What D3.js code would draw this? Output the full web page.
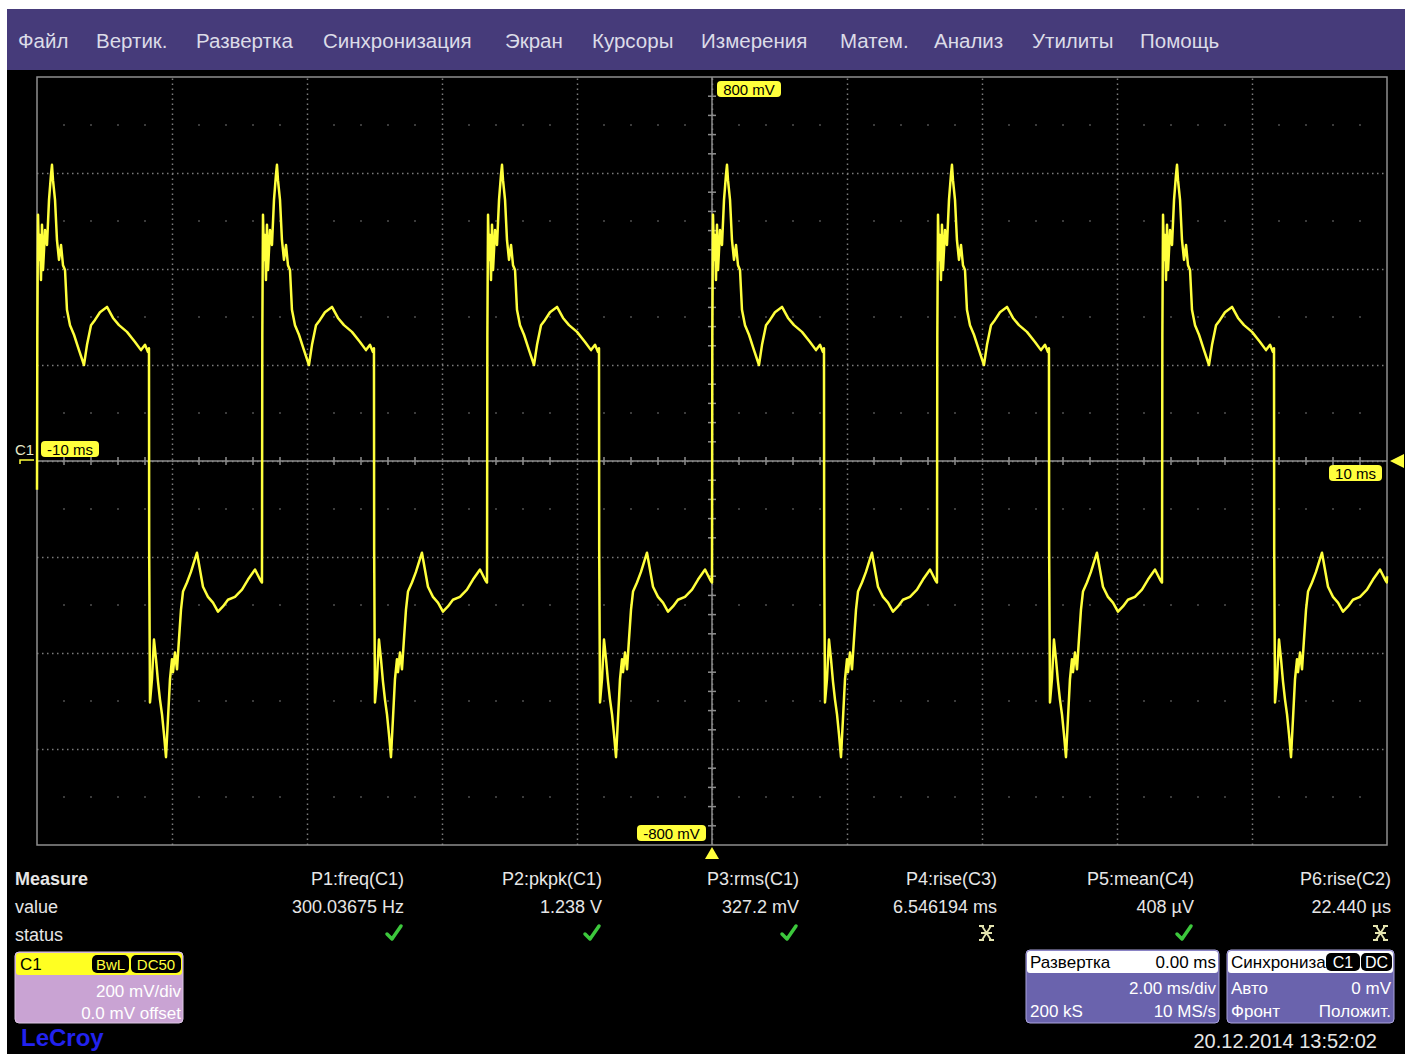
<!DOCTYPE html>
<html>
<head>
<meta charset="utf-8">
<script src="https://cdn.jsdelivr.net/npm/d3@7"></script>
<style>
  body { margin: 0; background: #fff; }
  svg { display: block; font-family: "Liberation Sans", Arial, sans-serif; }
</style>
</head>
<body>
<div id="container"></div>
<script>
// ---- data ----
const menuItems = ['Файл', 'Вертик.', 'Развертка', 'Синхронизация', 'Экран', 'Курсоры',
  'Измерения', 'Матем.', 'Анализ', 'Утилиты', 'Помощь'];

const timeDomain = [-10, 10];      // ms, 2 ms/div
const voltDomain = [-800, 800];    // mV, 200 mV/div
const timeGrid = [-8, -6, -4, -2, 0, 2, 4, 6, 8];
const voltGrid = [-600, -400, -200, 0, 200, 400, 600];

// one period of C1, time from rising edge (ms) and level (mV)
const cycleT = [0.000, 0.005, 0.015, 0.030, 0.044, 0.059, 0.074, 0.089, 0.119, 0.148,
  0.178, 0.207, 0.222, 0.237, 0.267, 0.296, 0.326, 0.356, 0.385, 0.415,
  0.444, 0.489, 0.548, 0.622, 0.696, 0.741, 0.800, 0.859, 0.933, 1.037,
  1.126, 1.215, 1.333, 1.452, 1.541, 1.600, 1.644, 1.659,
  1.662, 1.674, 1.703, 1.733, 1.763, 1.792, 1.822, 1.852, 1.881, 1.911,
  1.940, 1.970, 2.000, 2.015, 2.044, 2.074, 2.103, 2.133, 2.163, 2.222,
  2.281, 2.370, 2.459, 2.533, 2.607, 2.681, 2.755, 2.829, 2.933, 3.037,
  3.126, 3.230, 3.304, 3.330];
const cycleMv = [-253, 263, 513, 419, 471, 377, 492, 398, 481, 450,
  544, 596, 617, 585, 544, 460, 419, 450, 408, 398,
  315, 283, 263, 231, 200, 242, 283, 294, 310, 321,
  298, 283, 269, 248, 231, 242, 227, 235,
  -185, -503, -455, -372, -413, -459, -497, -528, -569, -617,
  -538, -455, -413, -440, -399, -434, -372, -310, -272, -253,
  -231, -191, -262, -283, -295, -314, -303, -289, -283, -268,
  -247, -226, -247, -253];
// rising edges seen on screen (ms)
const cycleStarts = [-10, -6.667, -3.333, 0, 3.333, 6.667];
const firstLevel = -60;   // level at the left edge before the first rise (mV)
const lastLevel = -240;   // level at the right edge (mV)

const measNames = ['P1:freq(C1)', 'P2:pkpk(C1)', 'P3:rms(C1)', 'P4:rise(C3)', 'P5:mean(C4)', 'P6:rise(C2)'];
const measValues = ['300.03675 Hz', '1.238 V', '327.2 mV', '6.546194 ms', '408 µV', '22.440 µs'];
const measStatus = ['ok', 'ok', 'ok', 'bad', 'ok', 'bad'];

// ---- layout ----
const W = 1414, H = 1054;
const plot = { left: 37, right: 1387, top: 77, bottom: 845 };
const menuX = [18, 96, 196, 323, 505, 592, 701, 840, 934, 1032, 1140];
const measRight = [404, 602, 799, 997, 1194, 1391];
const yellow = '#ffff3c';
const gridColor = '#7c7c7c';

const svg = d3.select('#container').append('svg')
  .attr('width', W).attr('height', H);

svg.append('rect').attr('x', 7).attr('y', 9).attr('width', 1398).attr('height', H - 9).attr('fill', '#000');
svg.append('rect').attr('x', 7).attr('y', 9).attr('width', 1398).attr('height', 61).attr('fill', '#463b7a');

svg.append('g').selectAll('text').data(menuItems).enter().append('text')
  .attr('x', (d, i) => menuX[i]).attr('y', 48)
  .attr('fill', '#dcdce8').attr('font-size', 20.5)
  .text(d => d);

const x = d3.scaleLinear().domain(timeDomain).range([plot.left, plot.right]);
const y = d3.scaleLinear().domain(voltDomain).range([plot.bottom, plot.top]);
const plotH = plot.bottom - plot.top, plotW = plot.right - plot.left;

// dotted grid
const gx = svg.append('g').attr('transform', 'translate(0,' + plot.bottom + ')')
  .call(d3.axisBottom(x).tickValues(timeGrid).tickSize(-plotH).tickFormat(''));
const gy = svg.append('g').attr('transform', 'translate(' + plot.left + ',0)')
  .call(d3.axisLeft(y).tickValues(voltGrid).tickSize(-plotW).tickFormat(''));
[gx, gy].forEach(g => {
  g.select('.domain').remove();
  g.selectAll('line').attr('stroke', gridColor).attr('stroke-width', 1.5)
    .attr('stroke-dasharray', '1.5,3.5');
});

// half-division dot rows
const minorT = d3.range(-10, 10.001, 0.4).filter(t => Math.abs(t / 2 - Math.round(t / 2)) > 0.01);
const halfV = [-700, -500, -300, -100, 100, 300, 500, 700];
const dots = [];
halfV.forEach(v => minorT.forEach(t => dots.push([t, v])));
svg.append('g').selectAll('rect').data(dots).enter().append('rect')
  .attr('x', d => x(d[0]) - 0.8).attr('y', d => y(d[1]) - 0.8)
  .attr('width', 1.6).attr('height', 1.6).attr('fill', '#5c5c5c');

// border
svg.append('rect').attr('x', plot.left).attr('y', plot.top)
  .attr('width', plotW).attr('height', plotH)
  .attr('fill', 'none').attr('stroke', '#8e8e8e').attr('stroke-width', 1.5);

// centre axes with ticks
svg.append('line').attr('x1', plot.left).attr('x2', plot.right)
  .attr('y1', y(0)).attr('y2', y(0)).attr('stroke', '#8e8e8e').attr('stroke-width', 1.5);
svg.append('line').attr('x1', x(0)).attr('x2', x(0))
  .attr('y1', plot.top).attr('y2', plot.bottom).attr('stroke', '#8e8e8e').attr('stroke-width', 1.5);
svg.append('g').selectAll('line').data(minorT).enter().append('line')
  .attr('x1', d => x(d)).attr('x2', d => x(d))
  .attr('y1', y(0) - 4).attr('y2', y(0) + 4)
  .attr('stroke', '#8e8e8e').attr('stroke-width', 1.5);
const minorV = d3.range(-800, 800.01, 40).filter(v => v % 200 !== 0);
svg.append('g').selectAll('line').data(minorV).enter().append('line')
  .attr('x1', x(0) - 4).attr('x2', x(0) + 4)
  .attr('y1', d => y(d)).attr('y2', d => y(d))
  .attr('stroke', '#8e8e8e').attr('stroke-width', 1.5);

// trace
const trace = [];
cycleStarts.forEach((s, k) => {
  cycleT.forEach((t, i) => {
    if (s + t > timeDomain[1]) return;
    trace.push([s + t, (k === 0 && i === 0) ? firstLevel : cycleMv[i]]);
  });
});
trace.push([timeDomain[1], lastLevel]);
svg.append('path').datum(trace)
  .attr('fill', 'none').attr('stroke', yellow).attr('stroke-width', 2.5)
  .attr('stroke-linejoin', 'round')
  .attr('d', d3.line().x(d => x(d[0])).y(d => y(d[1])));

// yellow marker labels
function tag(xl, yt, w, txt) {
  svg.append('rect').attr('x', xl).attr('y', yt).attr('width', w).attr('height', 16)
    .attr('rx', 4).attr('fill', yellow);
  svg.append('text').attr('x', xl + w / 2).attr('y', yt + 13.5)
    .attr('text-anchor', 'middle').attr('font-size', 15).attr('fill', '#000').text(txt);
}
tag(x(0) + 5, y(800) + 4, 64, '800 mV');
tag(x(0) - 75, y(-800) - 20, 69, '-800 mV');
tag(41, y(0) - 20, 58, '-10 ms');
tag(1329, y(0) + 4, 53, '10 ms');
svg.append('text').attr('x', 15).attr('y', y(0) - 6).attr('font-size', 15)
  .attr('fill', '#e8e8c8').text('C1');
svg.append('path').attr('d', 'M20,' + (y(0) + 3) + 'V' + (y(0) - 1) + 'H34')
  .attr('fill', 'none').attr('stroke', yellow).attr('stroke-width', 1.5);
svg.append('path')
  .attr('d', 'M1390,' + y(0) + 'L1404,' + (y(0) - 7) + 'L1404,' + (y(0) + 7) + 'Z')
  .attr('fill', yellow);
svg.append('path')
  .attr('d', 'M' + x(0) + ',' + (plot.bottom + 2) + 'L' + (x(0) - 7) + ',' + (plot.bottom + 14) +
    'L' + (x(0) + 7) + ',' + (plot.bottom + 14) + 'Z')
  .attr('fill', yellow);

// measurement table
const txtCol = '#e6e6e6';
svg.append('text').attr('x', 15).attr('y', 885).attr('font-size', 18)
  .attr('font-weight', 'bold').attr('fill', txtCol).text('Measure');
svg.append('text').attr('x', 15).attr('y', 913).attr('font-size', 18).attr('fill', txtCol).text('value');
svg.append('text').attr('x', 15).attr('y', 941).attr('font-size', 18).attr('fill', txtCol).text('status');

const meas = svg.append('g').selectAll('g').data(measNames).enter().append('g')
  .attr('transform', (d, i) => 'translate(' + measRight[i] + ',0)');
meas.append('text').attr('y', 885).attr('text-anchor', 'end').attr('font-size', 18)
  .attr('fill', txtCol).text(d => d);
meas.append('text').attr('y', 913).attr('text-anchor', 'end').attr('font-size', 18)
  .attr('fill', txtCol).text((d, i) => measValues[i]);
meas.each(function (d, i) {
  const g = d3.select(this);
  if (measStatus[i] === 'ok') {
    g.append('path').attr('d', 'M-17,934 L-12,939 L-3,926')
      .attr('fill', 'none').attr('stroke', '#3cc83c').attr('stroke-width', 3.5)
      .attr('stroke-linecap', 'round').attr('stroke-linejoin', 'round');
  } else {
    g.append('path')
      .attr('d', 'M-18,926H-13M-8,926H-3M-15,926L-6,940M-6,926L-15,940M-18,940H-13M-8,940H-3M-16,933H-5')
      .attr('fill', 'none').attr('stroke', '#e4e4b0').attr('stroke-width', 1.8);
  }
});

// C1 descriptor box
svg.append('rect').attr('x', 15).attr('y', 952).attr('width', 168).attr('height', 71)
  .attr('rx', 4).attr('fill', '#c9a3d3').attr('stroke', '#dcc6e4');
svg.append('rect').attr('x', 16).attr('y', 953).attr('width', 166).attr('height', 22)
  .attr('rx', 3).attr('fill', '#ffff22');
svg.append('text').attr('x', 20).attr('y', 970).attr('font-size', 17).attr('fill', '#000').text('C1');
function badge(xl, yt, w, txt, col, size) {
  svg.append('rect').attr('x', xl).attr('y', yt).attr('width', w).attr('height', 18)
    .attr('rx', 5).attr('fill', '#000');
  svg.append('text').attr('x', xl + w / 2).attr('y', yt + 14.5).attr('text-anchor', 'middle')
    .attr('font-size', size).attr('fill', col).text(txt);
}
badge(92, 955, 37, 'BwL', yellow, 15);
badge(131, 955, 50, 'DC50', yellow, 15);
svg.append('text').attr('x', 181).attr('y', 997).attr('text-anchor', 'end')
  .attr('font-size', 17).attr('fill', '#fff').text('200 mV/div');
svg.append('text').attr('x', 181).attr('y', 1019).attr('text-anchor', 'end')
  .attr('font-size', 17).attr('fill', '#fff').text('0.0 mV offset');
svg.append('text').attr('x', 21).attr('y', 1046).attr('font-size', 24)
  .attr('font-weight', 'bold').attr('fill', '#2222ee').text('LeCroy');

// timebase and trigger boxes
function infoBox(xl, w, head) {
  svg.append('rect').attr('x', xl).attr('y', 950).attr('width', w).attr('height', 73)
    .attr('rx', 4).attr('fill', '#6a63ad').attr('stroke', '#aaa4dc');
  svg.append('rect').attr('x', xl + 1).attr('y', 951).attr('width', w - 2).attr('height', 22)
    .attr('rx', 3).attr('fill', '#fff');
  svg.append('text').attr('x', xl + 4).attr('y', 968).attr('font-size', 17)
    .attr('fill', '#000').text(head);
}
function boxText(xp, yp, anchor, txt, col) {
  svg.append('text').attr('x', xp).attr('y', yp).attr('text-anchor', anchor)
    .attr('font-size', 17).attr('fill', col || '#fff').text(txt);
}
infoBox(1026, 193, 'Развертка');
boxText(1216, 968, 'end', '0.00 ms', '#000');
boxText(1216, 994, 'end', '2.00 ms/div');
boxText(1030, 1017, 'start', '200 kS');
boxText(1216, 1017, 'end', '10 MS/s');

infoBox(1227, 167, 'Синхрониза');
badge(1326, 953, 34, 'C1', '#fff', 16);
badge(1361, 953, 31, 'DC', '#fff', 16);
boxText(1231, 994, 'start', 'Авто');
boxText(1391, 994, 'end', '0 mV');
boxText(1231, 1017, 'start', 'Фронт');
boxText(1391, 1017, 'end', 'Положит.');

svg.append('text').attr('x', 1377).attr('y', 1048).attr('text-anchor', 'end')
  .attr('font-size', 20).attr('fill', '#e6e6e6').text('20.12.2014 13:52:02');
</script>
</body>
</html>
